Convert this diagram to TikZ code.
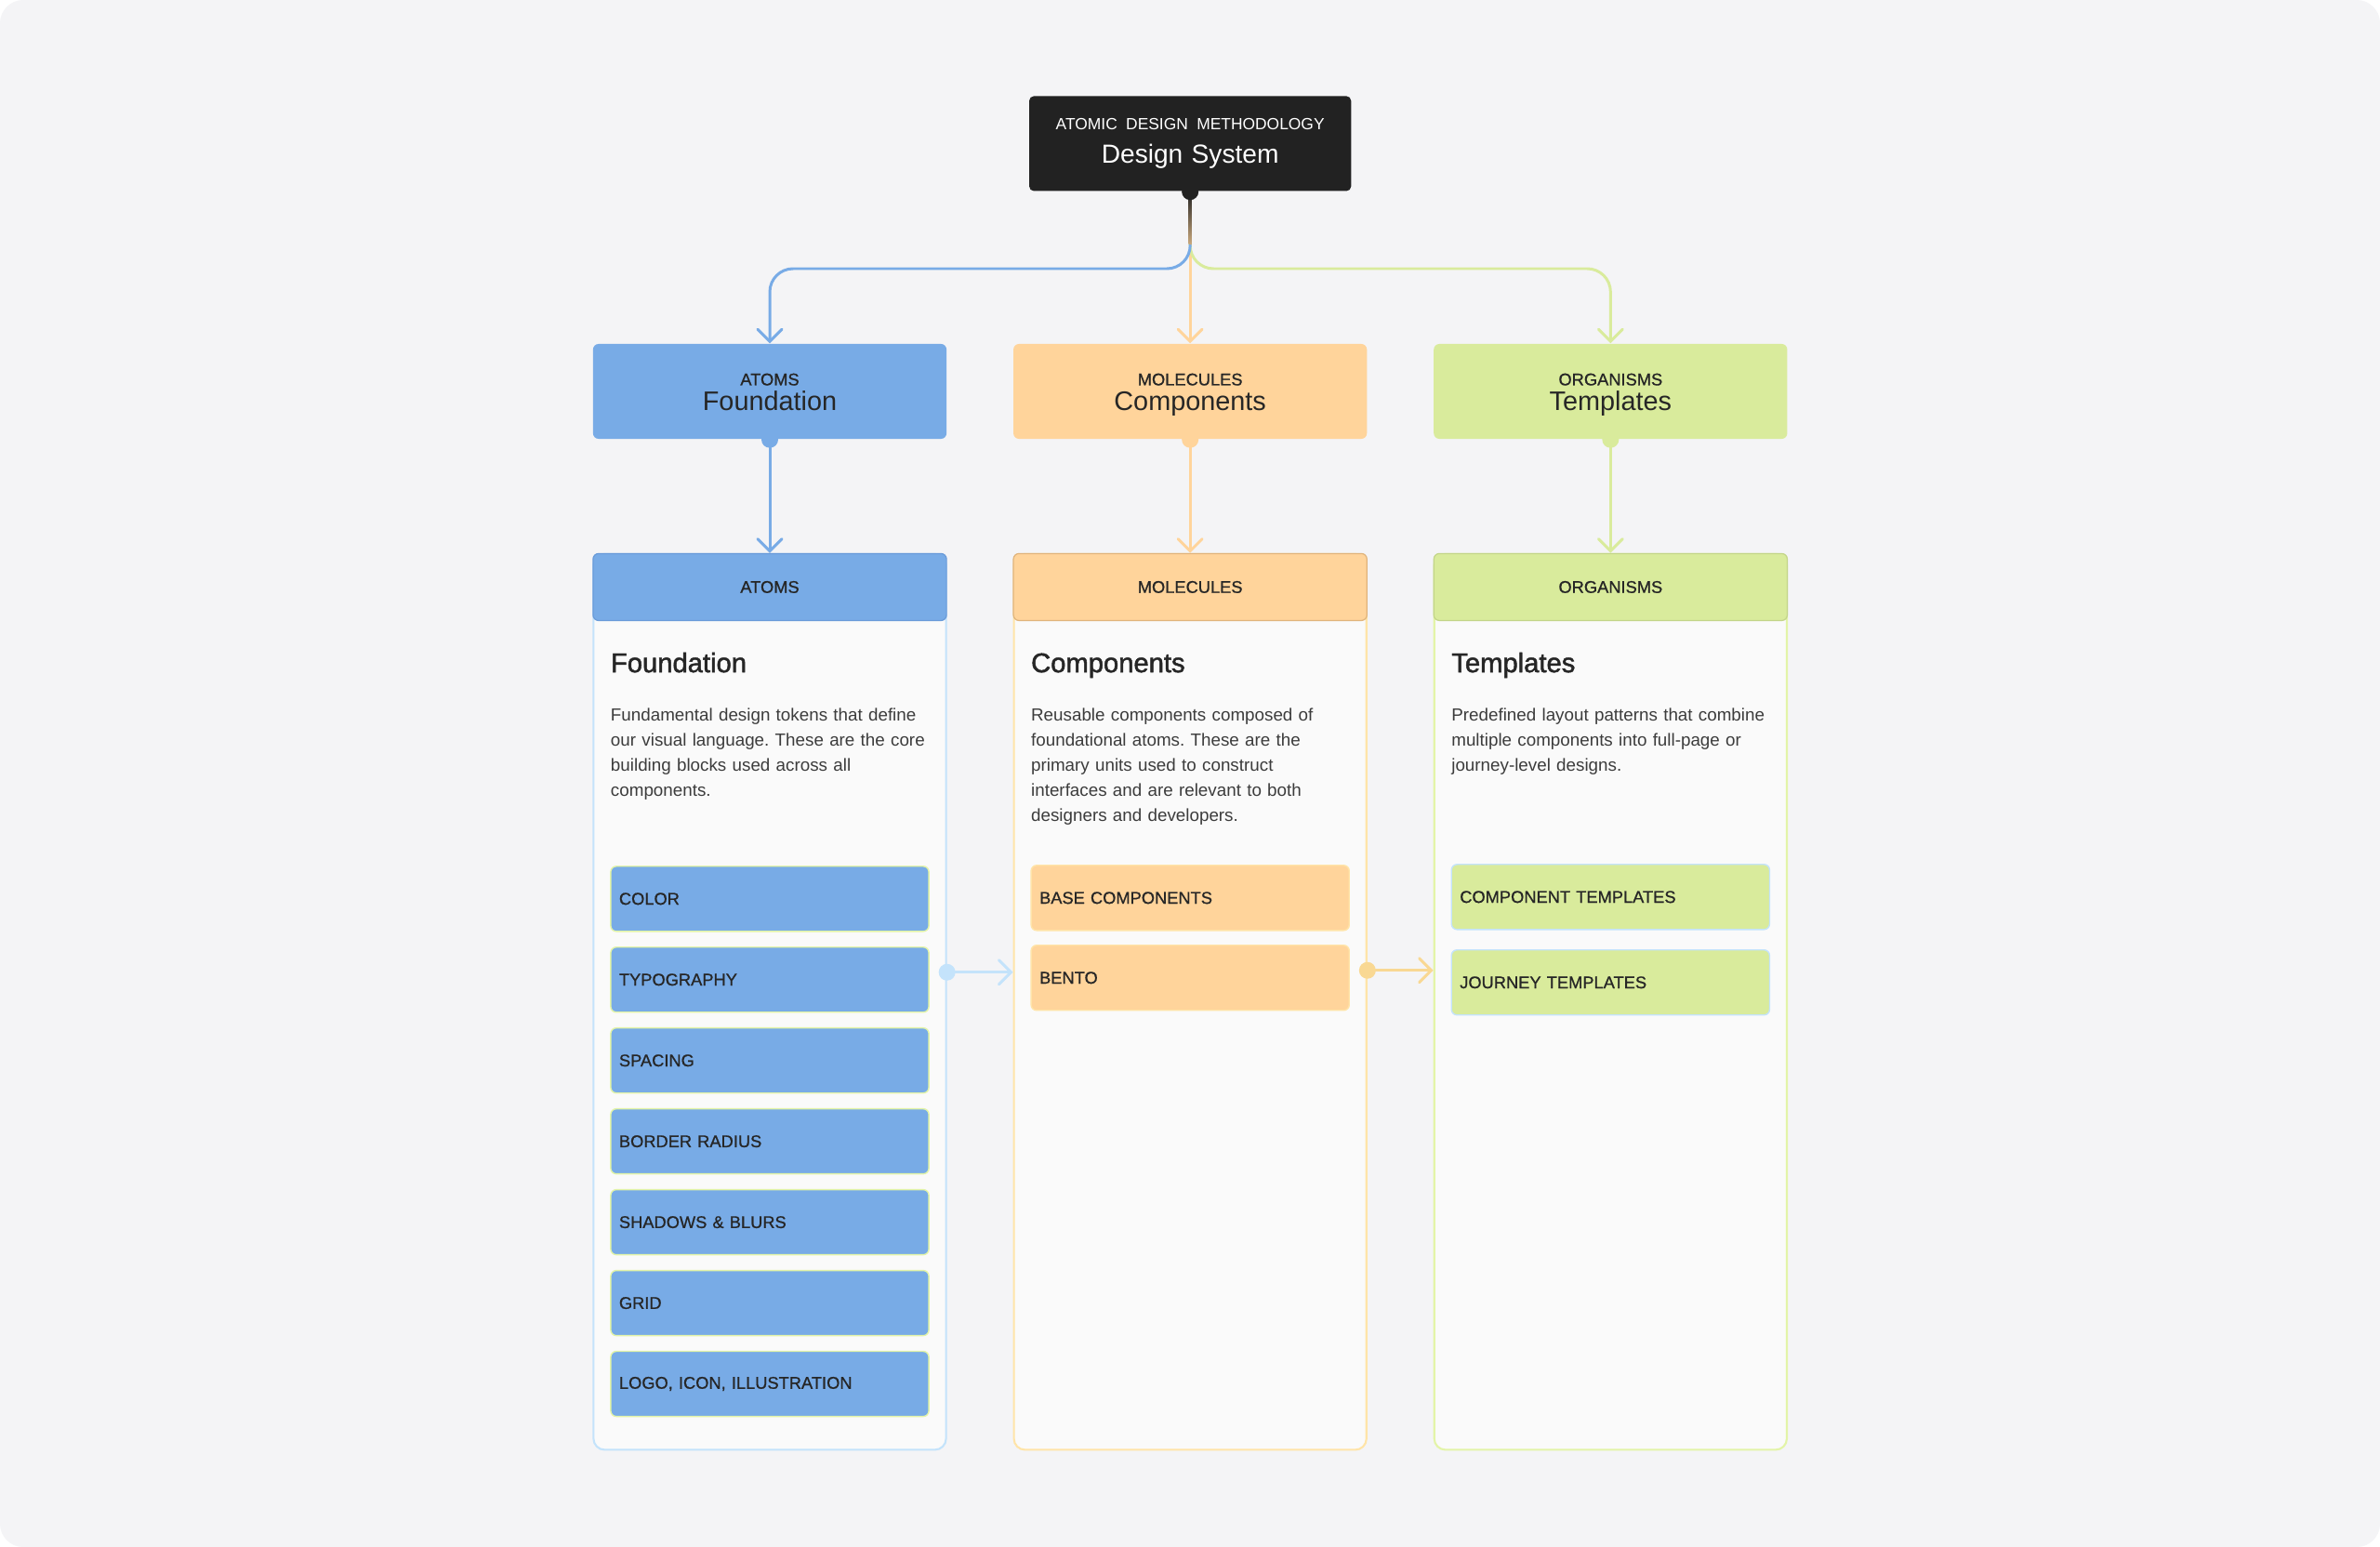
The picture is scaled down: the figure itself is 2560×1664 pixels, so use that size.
\documentclass[tikz,border=0pt]{standalone}
\usepackage{fontspec}
\setmainfont{Liberation Sans}
\newfontfamily\medfont{Liberation Sans}[FakeBold=0.8]
\newfontfamily\semifont{Liberation Sans}[FakeBold=1.6]
\usetikzlibrary{arrows.meta, positioning, calc}
\frenchspacing
\definecolor{dsbg}{HTML}{F4F4F6}
\definecolor{dsdark}{HTML}{222222}
\definecolor{dstext}{HTML}{262626}
\definecolor{dsgrey}{HTML}{3C3C3C}
\definecolor{dscard}{HTML}{FAFAFA}
\definecolor{atomblue}{HTML}{78ABE6}
\definecolor{atomedge}{HTML}{6A9BD9}
\definecolor{atomlight}{HTML}{C4E3FB}
\definecolor{molorange}{HTML}{FFD49B}
\definecolor{moledge}{HTML}{E0B47C}
\definecolor{mollight}{HTML}{FFE4A8}
\definecolor{moltrail}{HTML}{F9D893}
\definecolor{orggreen}{HTML}{D9EB9C}
\definecolor{orgedge}{HTML}{C3D589}
\definecolor{orglight}{HTML}{E3F4A8}
\newcommand{\levelcap}[1]{{\medfont\fontsize{5.2}{6}\selectfont\rule{0pt}{5.7pt}#1}}

\begin{document}
\begin{tikzpicture}[
    x=0.01cm, y=-0.01cm,
    node distance=0.155cm,
    root/.style={rectangle, fill=dsdark, text=white, rounded corners=0.05cm, minimum width=3.46cm, minimum height=1.02cm, text width=3.46cm, align=center, inner sep=0pt, font=\fontsize{8}{10.2}\selectfont},
    level/.style={rectangle, fill=#1, rounded corners=0.06cm, minimum width=3.8cm, minimum height=1.02cm, text width=3.8cm, align=center, inner sep=0pt, text=dstext, font=\fontsize{8.2}{7.7}\selectfont},
    card/.style={rectangle, draw=#1, fill=dscard, line width=0.6pt, rounded corners=0.12cm, minimum width=3.79cm, minimum height=9.63cm, inner sep=0pt},
    head/.style 2 args={rectangle, fill=#1, draw=#2, line width=0.35pt, rounded corners=0.06cm, minimum width=3.8cm, minimum height=0.72cm, inner sep=0pt, text=dstext, font=\medfont\fontsize{5.2}{6}\selectfont},
    cardtitle/.style={anchor=base west, inner sep=0pt, text=dstext, font=\semifont\fontsize{8.3}{9}\selectfont},
    cardtext/.style={anchor=base west, inner sep=0pt, text width=3.6cm, align=left, text=dsgrey, font=\fontsize{5.35}{7.7}\selectfont},
    item/.style 2 args={rectangle, fill=#1, draw=#2, line width=0.4pt, rounded corners=0.06cm, text width=3.24cm, inner xsep=0.09cm, inner ysep=0pt, minimum height=0.7cm, align=left, text=dstext, font=\medfont\fontsize{5.2}{6}\selectfont},
    flow/.style={draw=#1, line width=0.85pt, -{Straight Barb[length=1.3mm, width=2.6mm, line cap=round]}},
    link/.style={draw=#1, line width=0.85pt, -{Straight Barb[length=1.3mm, width=2.6mm, line cap=round]}}
]

% Background
\fill[white] (0,0) rectangle (2560,1664);
\fill[dsbg, rounded corners=0.25cm] (0,0) rectangle (2560,1664);

% Levels
\node[level=atomblue] (atoms) at (828,421) {\levelcap{ATOMS}\\Foundation\vphantom{p}};
\node[level=molorange, right=0.705cm of atoms] (mols) {\levelcap{MOLECULES}\\Components};
\node[level=orggreen, right=0.705cm of mols] (orgs) {\levelcap{ORGANISMS}\\Templates};
\node[root, above=1.63cm of mols] (ds) {{\fontsize{4.95}{6}\selectfont ATOMIC DESIGN METHODOLOGY}\\Design System};

% Cards
\node[card=atomlight, below=1.22cm of atoms] (atomscard) {};
\node[card=mollight, below=1.22cm of mols] (molscard) {};
\node[card=orglight, below=1.22cm of orgs] (orgscard) {};
\node[head={atomblue}{atomedge}, anchor=north] (atomshead) at (atomscard.north) {ATOMS};
\node[head={molorange}{moledge}, anchor=north] (molshead) at (molscard.north) {MOLECULES};
\node[head={orggreen}{orgedge}, anchor=north] (orgshead) at (orgscard.north) {ORGANISMS};

% Texts
\node[cardtitle] (atomstitle) at ($(atomshead.south west)+(19,55)$) {Foundation};
\node[cardtext] (atomsdesc) at ($(atomstitle.base west)+(0,52)$) {Fundamental design tokens that define\\our visual language. These are the core\\building blocks used across all\\components.};
\node[cardtitle] (molstitle) at ($(molshead.south west)+(19,55)$) {Components};
\node[cardtext] (molsdesc) at ($(molstitle.base west)+(0,52)$) {Reusable components composed of\\foundational atoms. These are the\\primary units used to construct\\interfaces and are relevant to both\\designers and developers.};
\node[cardtitle] (orgstitle) at ($(orgshead.south west)+(19,55)$) {Templates};
\node[cardtext] (orgsdesc) at ($(orgstitle.base west)+(0,52)$) {Predefined layout patterns that combine\\multiple components into full-page or\\journey-level designs.};

% Items
\node[item={atomblue}{orglight}, anchor=north] (color) at ($(atomshead.south)+(0,263)$) {COLOR};
\node[item={atomblue}{orglight}, below=of color] (typo) {TYPOGRAPHY};
\node[item={atomblue}{orglight}, below=of typo] (spacing) {SPACING};
\node[item={atomblue}{orglight}, below=of spacing] (radius) {BORDER RADIUS};
\node[item={atomblue}{orglight}, below=of radius] (shadows) {SHADOWS \& BLURS};
\node[item={atomblue}{orglight}, below=of shadows] (grid) {GRID};
\node[item={atomblue}{orglight}, below=of grid] (logo) {LOGO, ICON, ILLUSTRATION};
\node[item={molorange}{mollight}, anchor=north] (basecomp) at ($(molshead.south)+(0,262)$) {BASE COMPONENTS};
\node[item={molorange}{mollight}, below=0.145cm of basecomp] (bento) {BENTO};
\node[item={orggreen}{atomlight}, anchor=north] (comptpl) at ($(orgshead.south)+(0,261)$) {COMPONENT TEMPLATES};
\node[item={orggreen}{atomlight}, below=0.205cm of comptpl] (journeytpl) {JOURNEY TEMPLATES};

% Arrows
\coordinate (bus) at (0,289);
\draw[flow=molorange] (ds.south) -- (mols.north);
\draw[flow=orggreen, rounded corners=0.25cm] (ds.south) -- (ds.south |- bus) -- (orgs.north |- bus) -- (orgs.north);
\draw[flow=atomblue, rounded corners=0.25cm] (ds.south) -- (ds.south |- bus) -- (atoms.north |- bus) -- (atoms.north);
\shade[top color=dsdark, bottom color=molorange!75!dsdark] ($(ds.south)+(-1.6,0)$) rectangle ($(ds.south)+(1.6,56)$);
\fill[dsdark] (ds.south) circle (0.09cm);

\draw[flow=atomblue] (atoms.south) -- (atomshead.north);
\draw[flow=molorange] (mols.south) -- (molshead.north);
\draw[flow=orggreen] (orgs.south) -- (orgshead.north);
\fill[atomblue] (atoms.south) circle (0.09cm);
\fill[molorange] (mols.south) circle (0.09cm);
\fill[orggreen] (orgs.south) circle (0.09cm);

\draw[link=atomlight] ($(atomscard.east |- typo)+(0,-8)$) -- ($(molscard.west |- typo)+(0,-8)$);
\draw[link=moltrail] ($(molscard.east |- bento)+(0,-8)$) -- ($(orgscard.west |- bento)+(0,-8)$);
\fill[atomlight] ($(atomscard.east |- typo)+(0,-8)$) circle (0.09cm);
\fill[moltrail] ($(molscard.east |- bento)+(0,-8)$) circle (0.09cm);

\end{tikzpicture}
\end{document}
